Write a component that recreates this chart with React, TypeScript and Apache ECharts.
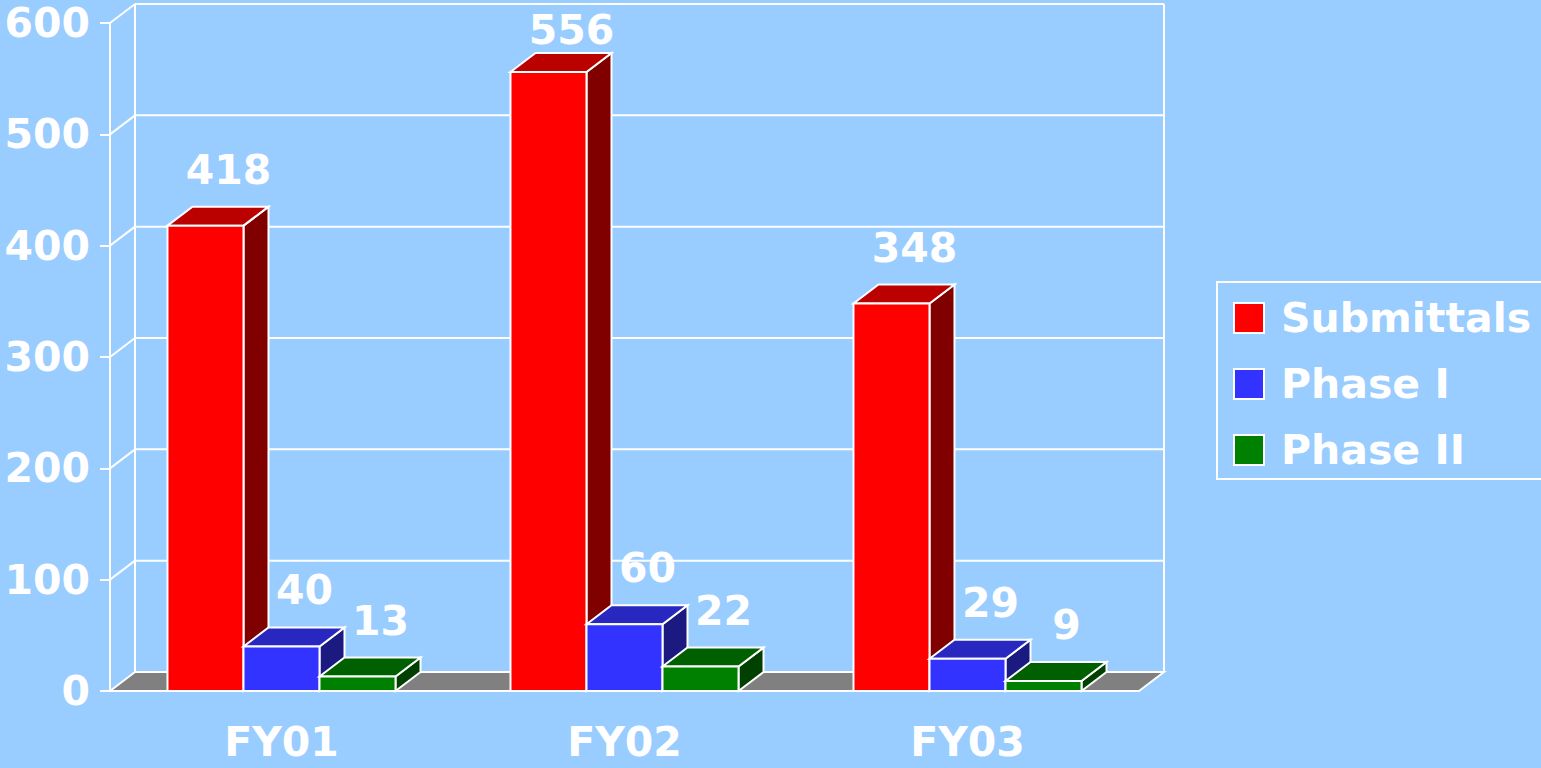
import React, { useEffect, useRef } from "react";
import * as echarts from "echarts";

const categories = ["FY01", "FY02", "FY03"];
const seriesNames = ["Submittals", "Phase I", "Phase II"];
const submittals = [418, 556, 348];
const phase1 = [40, 60, 29];
const phase2 = [13, 22, 9];
const yTicks = [0, 100, 200, 300, 400, 500, 600];

const FRONT = ["#FF0000", "#3333FF", "#008000"];
const TOP = ["#BB0000", "#2828C0", "#006000"];
const SIDE = ["#800000", "#1A1A80", "#004000"];
const DX = 25;
const DY = -19;
const FONT = '"DejaVu Sans", Verdana, sans-serif';
const WHITE = "#FFFFFF";
const LW = 2;

function barRenderer(k: number) {
  return (params: any, api: any) => {
    const cat = api.value(0);
    const v = api.value(1);
    const top = api.coord([cat, v]);
    const base = api.coord([cat, 0]);
    const band = api.size([1, 0])[0];
    const w = band * 0.2216;
    const cx = top[0] + (k - 1) * w;
    const x0 = cx - w / 2;
    const x1 = cx + w / 2;
    const yT = top[1];
    const yB = base[1];
    const st = { stroke: WHITE, lineWidth: LW, lineJoin: "miter" };
    return {
      type: "group",
      children: [
        {
          type: "polygon",
          shape: { points: [[x1, yB], [x1 + DX, yB + DY], [x1 + DX, yT + DY], [x1, yT]] },
          style: { fill: SIDE[k], ...st },
        },
        {
          type: "polygon",
          shape: { points: [[x0, yT], [x0 + DX, yT + DY], [x1 + DX, yT + DY], [x1, yT]] },
          style: { fill: TOP[k], ...st },
        },
        {
          type: "rect",
          shape: { x: x0, y: yT, width: w, height: yB - yT },
          style: { fill: FRONT[k], ...st },
        },
        {
          type: "text",
          x: cx + 23,
          y: Math.max(yT - 56, 30),
          z2: 100,
          style: {
            text: String(v),
            fill: WHITE,
            font: `bold 41px ${FONT}`,
            align: "center",
            verticalAlign: "middle",
          },
        },
      ],
    };
  };
}

function frameRenderer(params: any, api: any) {
  const v = api.value(1);
  const cs = params.coordSys;
  const y = api.coord([0, v])[1];
  const xl = cs.x;
  const xr = cs.x + cs.width;
  const st = { stroke: WHITE, lineWidth: LW };
  const children: any[] = [];
  if (v === 0) {
    const yTop = api.coord([0, yTicks[yTicks.length - 1]])[1];
    children.push({
      type: "polygon",
      shape: { points: [[xl, y], [xl + DX, y + DY], [xr + DX, y + DY], [xr, y]] },
      style: { fill: "#808080", ...st },
    });
    children.push({
      type: "line",
      shape: { x1: xl + DX, y1: y + DY, x2: xl + DX, y2: yTop + DY },
      style: st,
    });
    children.push({
      type: "line",
      shape: { x1: xr + DX, y1: y + DY, x2: xr + DX, y2: yTop + DY },
      style: st,
    });
  } else {
    children.push({
      type: "line",
      shape: { x1: xl, y1: y, x2: xl + DX, y2: y + DY },
      style: st,
    });
    children.push({
      type: "line",
      shape: { x1: xl + DX, y1: y + DY, x2: xr + DX, y2: y + DY },
      style: st,
    });
  }
  return { type: "group", children };
}

export default function App() {
  const ref = useRef<HTMLDivElement>(null);
  useEffect(() => {
    if (!ref.current) return;
    const chart = echarts.init(ref.current, null, { renderer: "svg" });
    const values = [submittals, phase1, phase2];
    chart.setOption({
      animation: false,
      backgroundColor: "#99CCFF",
      grid: { left: 110, top: 23, right: 402, bottom: 77 },
      xAxis: {
        type: "category",
        data: categories,
        axisLine: { lineStyle: { color: WHITE, width: LW } },
        axisTick: { length: 11, lineStyle: { color: WHITE, width: LW } },
        axisLabel: {
          color: WHITE,
          fontSize: 41,
          fontWeight: "bold",
          fontFamily: FONT,
          margin: 30,
        },
        splitLine: { show: false },
      },
      yAxis: {
        type: "value",
        min: 0,
        max: yTicks[yTicks.length - 1],
        interval: yTicks[1] - yTicks[0],
        axisLine: { show: true, lineStyle: { color: WHITE, width: LW } },
        axisTick: { show: true, length: 10, lineStyle: { color: WHITE, width: LW } },
        axisLabel: {
          color: WHITE,
          fontSize: 41,
          fontWeight: "bold",
          fontFamily: FONT,
          margin: 20,
        },
        splitLine: { show: false },
      },
      legend: {
        orient: "vertical",
        left: 1217,
        top: 282,
        data: seriesNames,
        icon: "rect",
        itemWidth: 30,
        itemHeight: 30,
        itemGap: 20,
        padding: [13, 20, 6, 16],
        borderColor: WHITE,
        borderWidth: LW,
        textStyle: {
          color: WHITE,
          fontSize: 41,
          fontWeight: "bold",
          fontFamily: FONT,
          lineHeight: 46,
          padding: [0, 0, 0, 12],
        },
      },
      series: [
        {
          name: "frame",
          type: "custom",
          z: 1,
          silent: true,
          renderItem: frameRenderer,
          encode: { x: 0, y: 1 },
          data: yTicks.map((v) => [0, v]),
        },
        ...seriesNames.map((name, k) => ({
          name,
          type: "custom",
          z: 2,
          renderItem: barRenderer(k),
          encode: { x: 0, y: 1 },
          itemStyle: { color: FRONT[k], borderColor: WHITE, borderWidth: 1.5 },
          data: values[k].map((v, i) => [i, v]),
        })),
      ],
    });
    return () => chart.dispose();
  }, []);
  return (
    <div
      ref={ref}
      style={{ position: "fixed", left: 0, top: 0, width: 1541, height: 768 }}
    />
  );
}
